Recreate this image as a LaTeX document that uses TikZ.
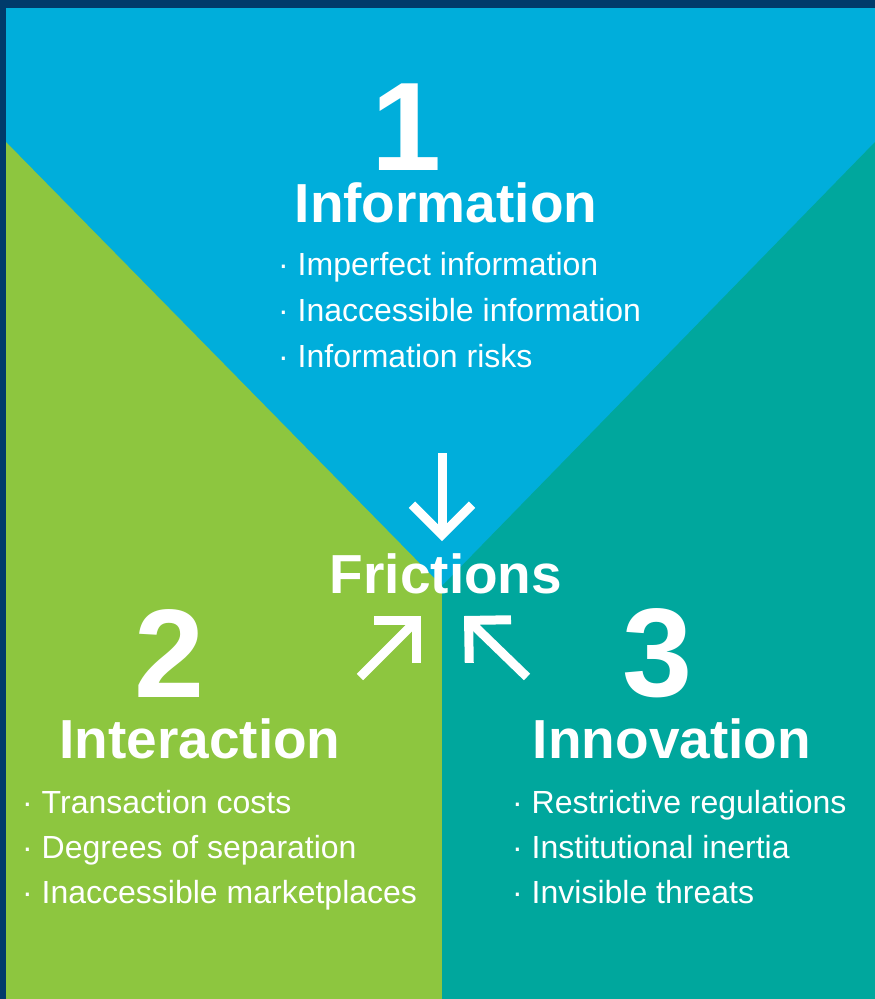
\documentclass[tikz,border=0pt]{standalone}
\usepackage{fontspec}
\setmainfont{Liberation Sans}
\usetikzlibrary{arrows.meta}
\definecolor{frnavy}{RGB}{0,59,107}
\definecolor{frblue}{RGB}{0,174,219}
\definecolor{frgreen}{RGB}{141,198,63}
\definecolor{frteal}{RGB}{0,167,157}

\begin{document}
\begin{tikzpicture}[x=1pt,y=-1pt,
  num/.style={text=white,inner sep=0pt,anchor=base,font=\fontsize{126}{126}\selectfont\bfseries},
  title/.style={text=white,inner sep=0pt,anchor=base,font=\fontsize{55}{55}\selectfont\bfseries},
  item/.style={text=white,inner sep=0pt,anchor=base west,font=\fontsize{32}{32}\selectfont},
  frarrow/.style={white,line width=9pt,-{Straight Barb[length=30pt,width=60pt]}}]
\useasboundingbox (0,0) rectangle (875,999);

% background
\fill[frnavy] (0,0) rectangle (875,999);
\fill[frblue] (6,8) rectangle (875,999);
\fill[frgreen] (6,142) -- (442,586) -- (442,999) -- (6,999) -- cycle;
\fill[frteal] (875,142) -- (442,586) -- (442,999) -- (875,999) -- cycle;

% information
\node[num] (num1) at (407,170) {1};
\node[title] (info) at (446,222) {Information};
\node[item] (info1) at (278,275) {· Imperfect information};
\node[item] (info2) at (278,321) {· Inaccessible information};
\node[item] (info3) at (278,367) {· Information risks};

% interaction
\node[num] (num2) at (170,697) {2};
\node[title] (inter) at (200,758) {Interaction};
\node[item] (inter1) at (22,813) {· Transaction costs};
\node[item] (inter2) at (22,858) {· Degrees of separation};
\node[item] (inter3) at (22,903) {· Inaccessible marketplaces};

% innovation
\node[num] (num3) at (658,696) {3};
\node[title] (innov) at (672,758) {Innovation};
\node[item] (innov1) at (512,813) {· Restrictive regulations};
\node[item] (innov2) at (512,858) {· Institutional inertia};
\node[item] (innov3) at (512,903) {· Invisible threats};

% frictions
\node[title] (fric) at (446,593) {Frictions};

\coordinate (infoTail) at (442,453);
\coordinate (infoTip) at (442,541);
\coordinate (interTail) at (360,677);
\coordinate (interTip) at (421,616);
\coordinate (innovTail) at (527,677);
\coordinate (innovTip) at (464,616);
\draw[frarrow] (infoTail) -- (infoTip);
\draw[frarrow] (interTail) -- (interTip);
\draw[frarrow] (innovTail) -- (innovTip);
\end{tikzpicture}
\end{document}
